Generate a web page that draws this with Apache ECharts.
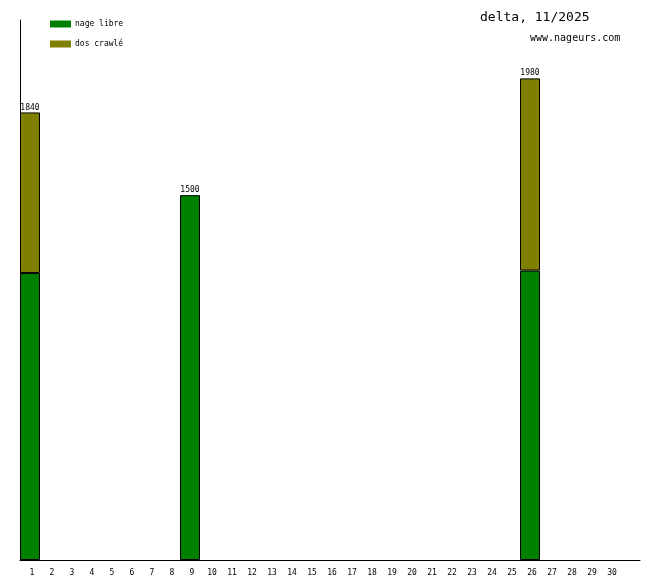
<!DOCTYPE html>
<html><head><meta charset="utf-8">
<script src="https://cdn.jsdelivr.net/npm/echarts@6/dist/echarts.min.js"></script>
<style>html,body{margin:0;padding:0;background:#fff}#c{width:660px;height:580px}</style>
</head><body><div id="c"></div>
<script>
const days = ['1','2','3','4','5','6','7','8','9','10','11','12','13','14','15','16','17','18','19','20','21','22','23','24','25','26','27','28','29','30',''];
const nageLibre = [1180,0,0,0,0,0,0,0,1500,0,0,0,0,0,0,0,0,0,0,0,0,0,0,0,0,1190,0,0,0,0,0];
const dosCrawle = [660,0,0,0,0,0,0,0,0,0,0,0,0,0,0,0,0,0,0,0,0,0,0,0,0,790,0,0,0,0,0];
const titleText = 'delta, 11/2025';
const subText = 'www.nageurs.com';

const totals = nageLibre.map((v,i)=>v+dosCrawle[i]);
const mono = 'DejaVu Sans Mono';
const chart = echarts.init(document.getElementById('c'));
const mk = arr => arr.map(v => v>0 ? v : '-');
chart.setOption({
  animation:false,
  backgroundColor:'#fff',
  title:[
    {text:titleText,left:480,top:11,padding:0,textStyle:{fontFamily:mono,fontSize:13,fontWeight:'normal',color:'#000'}},
    {text:subText,left:530,top:33,padding:0,textStyle:{fontFamily:mono,fontSize:10,fontWeight:'normal',color:'#000'}}
  ],
  legend:{
    data:['nage libre','dos crawlé'],orient:'vertical',left:50,top:20,padding:0,itemWidth:21,itemHeight:7,itemGap:12,
    icon:'rect',itemStyle:{borderWidth:0},
    textStyle:{fontFamily:mono,fontSize:8,color:'#000',padding:[0,0,0,-1]}
  },
  grid:{left:20,right:20,top:20,bottom:20,containLabel:false},
  xAxis:{type:'category',data:days,boundaryGap:true,
    axisLine:{lineStyle:{color:'#000',width:1}},axisTick:{show:false},
    axisLabel:{interval:0,fontFamily:mono,fontSize:8,color:'#000',margin:9,padding:[0,0,0,4]}},
  yAxis:{type:'value',min:0,max:2220,axisLine:{show:true,lineStyle:{color:'#000'}},
    axisTick:{show:false},axisLabel:{show:false},splitLine:{show:false}},
  series:[
    {name:'nage libre',type:'bar',stack:'s',data:mk(nageLibre),barCategoryGap:'0%',barWidth:20,
      itemStyle:{color:'#008000',borderColor:'#000',borderWidth:1}},
    {name:'dos crawlé',type:'bar',stack:'s',data:mk(dosCrawle),barWidth:20,
      itemStyle:{color:'#808000',borderColor:'#000',borderWidth:1}},
    {name:'total',type:'bar',stack:'s',barWidth:20,data:totals.map(v=>v>0?0:'-'),
      itemStyle:{color:'rgba(0,0,0,0)',borderWidth:0},
      label:{show:true,position:'top',distance:1,fontFamily:mono,fontSize:8,color:'#000',
        formatter:p=>String(totals[p.dataIndex])}}
  ]
});
</script></body></html>
